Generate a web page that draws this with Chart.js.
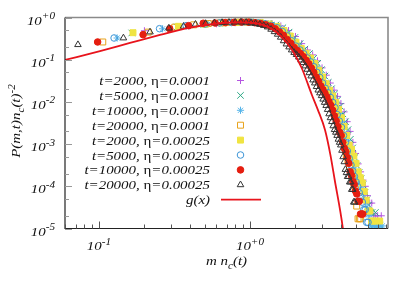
<!DOCTYPE html>
<html><head><meta charset="utf-8">
<script src="https://cdn.jsdelivr.net/npm/chart.js@4.4.0/dist/chart.umd.min.js"></script>
<style>html,body{margin:0;padding:0;background:#fff;overflow:hidden}canvas{display:block}</style>
</head><body>
<canvas id="c" width="415" height="291" style="width:415px;height:291px"></canvas>
<script>
// ---- data ----
const seriesLabels = ["t=2000, η=0.0001","t=5000, η=0.0001","t=10000, η=0.0001","t=20000, η=0.0001",
  "t=2000, η=0.00025","t=5000, η=0.00025","t=10000, η=0.00025","t=20000, η=0.00025"];
// n_c(t) for each series: x = m * n_c(t), m = 1, 2, 3, ...
const nc = [0.2, 0.165, 0.132, 0.106, 0.168, 0.126, 0.098, 0.0726];

const yT2000a = [0.486,0.64,0.71,0.755,0.775,0.765,0.715,0.63,0.49,0.355,0.24,0.17,0.13,0.094,0.064,0.043,0.028,0.019,0.0135,0.0091,0.0058,0.0034,0.002,0.0011,0.0006,0.00034,0.00022,0.00014,0.0001,0.00006,0.00004,0.00004,0.00002,0.00002,0.00002,null,0.00002];
const yT5000a = [0.43,0.60,0.68,0.735,0.762,0.775,0.77,0.725,0.665,0.57,0.45,0.335,0.24,0.178,0.14,0.108,0.082,0.058,0.041,0.029,0.0205,0.0155,0.011,0.0079,0.0052,0.0034,0.0022,0.0013,0.00081,0.00048,0.00031,0.00021,0.00015,0.000108,0.000072,0.000048,0.000036,0.000024,0.000024,0.000012,0.000024,0.000012,null,0.000012];
const yT10000a = [0.327,0.54,0.64,0.70,0.74,0.762,0.775,0.78,0.745,0.71,0.65,0.57,0.465,0.365,0.28,0.21,0.17,0.138,0.11,0.089,0.068,0.05,0.038,0.028,0.021,0.0165,0.0128,0.0097,0.0073,0.005,0.0035,0.0025,0.0016,0.0011,0.00069,0.00046,0.00032,0.00023,0.00017,0.000126,0.000095,0.000074,0.000053,0.000042,0.000032,0.000021,0.000021,0.0000115,0.0000115,0.0000115,null,0.0000115,0.0000115,null,0.0000115,null,0.0000115];
const yT20000a = [0.263,0.45,0.59,0.67,0.72,0.75,0.765,0.775,0.78,0.76,0.73,0.69,0.63,0.55,0.465,0.385,0.30,0.24,0.19,0.157,0.133,0.11,0.091,0.072,0.055,0.044,0.034,0.026,0.0205,0.0165,0.0133,0.0105,0.0083,0.0063,0.0045,0.0034,0.0024,0.0017,0.0012,0.00082,0.00056,0.0004,0.00029,0.00022,0.00017,0.00012,0.000085,0.000034,0.000017,0.000017,0.000017];
const yT2000b = [0.436,0.618,0.69,0.745,0.768,0.78,0.75,0.70,0.615,0.49,0.365,0.26,0.185,0.143,0.11,0.081,0.056,0.039,0.027,0.019,0.0138,0.0097,0.0066,0.0042,0.0026,0.0016,0.00095,0.00075,0.00052,0.00035,0.00022,0.00016,0.00012,0.000075,0.000047,0.000026,0.000026,0.000015,0.000015,null,0.000015,null,0.000015];
const yT5000b = [0.327,0.543,0.64,0.70,0.745,0.762,0.775,0.78,0.745,0.71,0.65,0.57,0.465,0.365,0.28,0.21,0.17,0.138,0.11,0.089,0.068,0.05,0.038,0.028,0.021,0.0165,0.0128,0.0097,0.0073,0.005,0.0035,0.0025,0.0016,0.0011,0.00069,0.00046,0.00032,0.00023,0.00017,0.000126,0.000098,0.00007,0.000056,0.000042,0.000028,0.000028,0.000014,0.000014];
const yT10000b = [0.263,0.392,0.543,0.64,0.73,0.74,0.76,0.77,0.78,0.775,0.75,0.72,0.67,0.62,0.54,0.455,0.38,0.30,0.245,0.195,0.165,0.14,0.118,0.097,0.08,0.063,0.05,0.039,0.031,0.024,0.0195,0.016,0.013,0.0102,0.0083,0.0063,0.0046,0.0035,0.0026,0.0019,0.0016,0.0011,0.0008,0.00066,0.00048,0.00035,0.00022,0.00018,0.00013,0.00011,0.000077,0.000066,0.000044,0.000044,0.000022,0.000022,0.000022];
const yT20000b = [0.227,0.327,0.453,0.56,0.618,0.69,0.72,0.745,0.76,0.77,0.775,0.78,0.77,0.745,0.72,0.685,0.645,0.595,0.525,0.46,0.40,0.34,0.28,0.235,0.20,0.17,0.148,0.132,0.115,0.098,0.085,0.071,0.059,0.049,0.041,0.033,0.028,0.023,0.019,0.0163,0.014,0.0116,0.0097,0.0082,0.0066,0.0052,0.0042,0.0034,0.0027,0.0022,0.0019,0.0016,0.0013,0.0011,0.00095,0.00071,0.0005,0.00038,0.00025,0.00021,0.00017,0.00017,0.000126,0.000126,0.000084,0.000084,0.000042,0.000042];

const gLabel = "g(x)";
const gX = [0.0596,0.1016,0.1604,0.2535,0.401,0.633,0.8,1.0,1.2,1.4,1.63,1.9,2.2,2.57,2.82,3.14,3.41,3.64,4.11,4.2];
const gY = [0.0984,0.1607,0.249,0.385,0.579,0.73,0.765,0.76,0.68,0.534,0.345,0.170,0.0636,0.0146,0.0064,0.00216,0.00055,0.000141,0.0000108,0.0000054];

const xTickVals = [0.1, 1];
const xTickExp = ["-1", "+0"];
const yTickVals = [1, 0.1, 0.01, 0.001, 0.0001, 0.00001];
const yTickExp = ["+0", "-1", "-2", "-3", "-4", "-5"];

const allY = [yT2000a,yT5000a,yT10000a,yT20000a,yT2000b,yT5000b,yT10000b,yT20000b];

// ---- styles ----
const styles = [
  {ps:'cross',    r:3.5, c:'#b455e0', fill:false},
  {ps:'crossRot', r:4.6, c:'#2aa784', fill:false},
  {ps:'star',     r:3.6, c:'#56b4e9', fill:false},
  {ps:'rect',     r:4.2, c:'#e8a21a', fill:false},
  {ps:'rect',     r:4.2, c:'#f0e442', fill:true},
  {ps:'circle',   r:3.3, c:'#3d95d6', fill:false},
  {ps:'circle',   r:3.3, c:'#e51e10', fill:true},
  {ps:'triangle', r:3.8, c:'#333333', fill:false}
];
const gColor = '#e8141c';

function toPts(ys, k){
  const out = [];
  ys.forEach((v,i)=>{ if(v!==null) out.push({x:(i+1)*nc[k], y:v}); });
  return out;
}

const datasets = allY.map((ys,k)=>({
  label: seriesLabels[k],
  data: toPts(ys,k),
  showLine:false,
  pointStyle: styles[k].ps,
  pointRadius: styles[k].r,
  pointBorderWidth: 1,
  pointBorderColor: styles[k].c,
  pointBackgroundColor: styles[k].fill ? styles[k].c : 'rgba(0,0,0,0)',
  order: 10-k
}));
datasets.push({
  label: gLabel,
  data: gX.map((x,i)=>({x, y:gY[i]})),
  showLine:true,
  borderColor:gColor,
  borderWidth:1.8,
  pointRadius:0,
  cubicInterpolationMode:'monotone',
  order:0
});

// ---- text helpers ----
const SX = 1.15, FS = 13, FF = '"Liberation Serif","Times New Roman",serif';
function fnt(sz, it){ return (it?'italic ':'') + sz + 'px ' + FF; }
function richW(ctx, parts){
  let w=0;
  for(const p of parts){ ctx.font = fnt(p.s?FS*0.75:FS, !p.up); w += ctx.measureText(p.t).width; }
  return w;
}
function drawRich(ctx, parts, x, y, align){
  ctx.save(); ctx.translate(x,y); ctx.scale(SX,1);
  const w = richW(ctx, parts);
  let cx = align==='right' ? -w : (align==='center' ? -w/2 : 0);
  ctx.textBaseline='alphabetic'; ctx.textAlign='left'; ctx.fillStyle='#111';
  for(const p of parts){
    const sz = p.s?FS*0.75:FS;
    ctx.font = fnt(sz, !p.up);
    const dy = p.s==='sup' ? -FS*0.42 : (p.s==='sub' ? FS*0.28 : 0);
    ctx.fillText(p.t, cx, dy);
    cx += ctx.measureText(p.t).width;
  }
  ctx.restore();
}
function labelParts(str){
  const i = str.indexOf('η');
  if(i<0) return [{t:str}];
  return [{t:str.slice(0,i)},{t:'η',up:true},{t:str.slice(i+1)}];
}
function marker(ctx, st, x, y){
  const r = st.r;
  ctx.save();
  ctx.strokeStyle = st.c; ctx.fillStyle = st.c; ctx.lineWidth = 1;
  ctx.beginPath();
  if(st.ps==='cross'){ ctx.moveTo(x-r,y); ctx.lineTo(x+r,y); ctx.moveTo(x,y-r); ctx.lineTo(x,y+r); ctx.stroke(); }
  else if(st.ps==='crossRot'){ const d=r*Math.SQRT1_2; ctx.moveTo(x-d,y-d); ctx.lineTo(x+d,y+d); ctx.moveTo(x-d,y+d); ctx.lineTo(x+d,y-d); ctx.stroke(); }
  else if(st.ps==='star'){ const d=r*Math.SQRT1_2; ctx.moveTo(x-r,y); ctx.lineTo(x+r,y); ctx.moveTo(x,y-r); ctx.lineTo(x,y+r); ctx.moveTo(x-d,y-d); ctx.lineTo(x+d,y+d); ctx.moveTo(x-d,y+d); ctx.lineTo(x+d,y-d); ctx.stroke(); }
  else if(st.ps==='rect'){ const d=r*Math.SQRT1_2; ctx.rect(x-d,y-d,2*d,2*d); if(st.fill) ctx.fill(); ctx.stroke(); }
  else if(st.ps==='circle'){ ctx.arc(x,y,r,0,Math.PI*2); if(st.fill) ctx.fill(); ctx.stroke(); }
  else if(st.ps==='triangle'){ for(let j=0;j<3;j++){ const a=j*2*Math.PI/3; const px=x+Math.sin(a)*r, py=y-Math.cos(a)*r; if(j===0) ctx.moveTo(px,py); else ctx.lineTo(px,py);} ctx.closePath(); ctx.stroke(); }
  ctx.restore();
}

const decor = {
  id:'decor',
  afterDatasetsDraw(chart){
    const {ctx, chartArea:a, scales:{x, y}} = chart;
    ctx.save();
    // frame
    ctx.lineWidth = 1.6; ctx.strokeStyle = '#8a8a8a';
    ctx.beginPath(); ctx.moveTo(a.left, a.top); ctx.lineTo(a.right, a.top); ctx.lineTo(a.right, a.bottom); ctx.stroke();
    ctx.lineWidth = 1.2; ctx.strokeStyle = '#222';
    ctx.beginPath(); ctx.moveTo(a.left, a.top); ctx.lineTo(a.left, a.bottom); ctx.lineTo(a.right, a.bottom); ctx.stroke();
    // x ticks (inward)
    ctx.lineWidth = 1; ctx.strokeStyle = '#555';
    for(let d=-2; d<=1; d++){
      for(let k=1;k<=9;k++){
        const v = k*Math.pow(10,d);
        if(v < x.min || v > x.max) continue;
        const px = Math.round(x.getPixelForValue(v))+0.5;
        const len = k===1 ? 7 : 4;
        ctx.beginPath(); ctx.moveTo(px, a.bottom); ctx.lineTo(px, a.bottom-len); ctx.stroke();
      }
    }
    // y ticks (inward)
    ctx.strokeStyle = '#999';
    for(let d=-6; d<=0; d++){
      for(const k of [1,2,5]){
        const v = k*Math.pow(10,d);
        if(v < y.min*0.999 || v > y.max*1.001) continue;
        const py = Math.round(y.getPixelForValue(v))+0.5;
        const len = k===1 ? 7 : 4;
        ctx.beginPath(); ctx.moveTo(a.left, py); ctx.lineTo(a.left+len, py); ctx.stroke();
      }
    }
    ctx.restore();
    // tick labels
    yTickVals.forEach((v,i)=>{
      const py = y.getPixelForValue(v);
      drawRich(ctx, [{t:'10'},{t:yTickExp[i], s:'sup'}], 55, py+7, 'right');
    });
    xTickVals.forEach((v,i)=>{
      const px = x.getPixelForValue(v);
      drawRich(ctx, [{t:'10'},{t:xTickExp[i], s:'sup'}], px, 250, 'center');
    });
    // axis titles
    drawRich(ctx, [{t:'m n'},{t:'c',s:'sub'},{t:'(t)'}], (a.left+a.right)/2, 265, 'center');
    ctx.save(); ctx.translate(20, 121); ctx.rotate(-Math.PI/2);
    drawRich(ctx, [{t:'P(m,t)n'},{t:'c',s:'sub'},{t:'(t)'},{t:'-2',s:'sup'}], 0, 0, 'center');
    ctx.restore();
    // legend
    const rowY0 = 80.5, dy = 14.9, tx = 210, mx = 240.5;
    seriesLabels.forEach((lab,k)=>{
      const ry = rowY0 + k*dy;
      drawRich(ctx, labelParts(lab), tx, ry+4.5, 'right');
      marker(ctx, styles[k], mx, ry);
    });
    const gy = rowY0 + 8*dy;
    drawRich(ctx, [{t:gLabel}], tx, gy+4.5, 'right');
    ctx.save(); ctx.strokeStyle = gColor; ctx.lineWidth = 1.8;
    ctx.beginPath(); ctx.moveTo(221, gy); ctx.lineTo(261, gy); ctx.stroke(); ctx.restore();
  }
};

new Chart(document.getElementById('c'), {
  type:'scatter',
  data:{datasets},
  options:{
    responsive:false, animation:false, devicePixelRatio:1,
    events:[],
    layout:{padding:{left:65, right:27, top:17.5, bottom:62.5}},
    plugins:{legend:{display:false}, tooltip:{enabled:false}},
    scales:{
      x:{type:'logarithmic', min:0.0596, max:8.2, display:false},
      y:{type:'logarithmic', min:0.00001, max:1, display:false}
    }
  },
  plugins:[decor]
});
</script>
</body></html>
